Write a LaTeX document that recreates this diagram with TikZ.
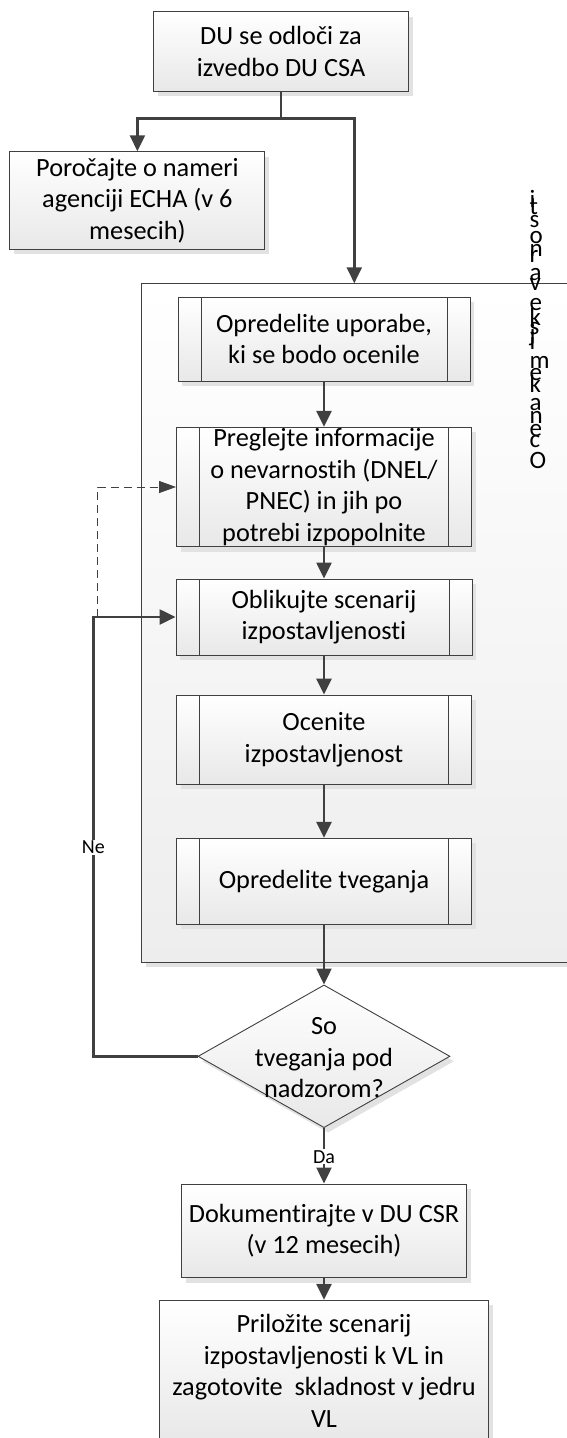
\documentclass[tikz,border=0pt]{standalone}
\usepackage{fontspec}
\setmainfont{Carlito}[Ligatures=NoCommon]
\usetikzlibrary{arrows.meta,shapes.geometric,shadows}
\definecolor{ln}{HTML}{404040}
\definecolor{shd}{HTML}{E2E2E2}
\begin{document}
\begin{tikzpicture}[x=1pt,y=-1pt,
  font=\fontsize{26.3}{31.5}\selectfont,
  base/.style={draw=ln, line width=0.9pt, top color=white, bottom color=black!9,
    drop shadow={shadow xshift=4pt, shadow yshift=-5pt, fill=shd, opacity=1},
    inner sep=0pt, align=center},
  plainbox/.style={base, rectangle},
  procbox/.style={base, rectangle,
    path picture={
      \draw[ln, line width=0.9pt] ([xshift=23pt]path picture bounding box.north west) -- ([xshift=23pt]path picture bounding box.south west);
      \draw[ln, line width=0.9pt] ([xshift=-23pt]path picture bounding box.north east) -- ([xshift=-23pt]path picture bounding box.south east);}},
  decision/.style={base, diamond},
  conn/.style={draw=ln, line width=2.4pt},
  arr/.style={conn, -{Triangle[length=16pt,width=15pt]}},
  dsh/.style={draw=ln, line width=1pt, dash pattern=on 8pt off 5pt, -{Triangle[length=17pt,width=12pt]}},
  lbl/.style={fill=white, inner sep=1pt, font=\fontsize{20}{22}\selectfont},
  vlet/.style={anchor=base west, inner sep=0pt, font=\fontsize{25}{25}\selectfont},
]
\useasboundingbox (0,0) rectangle (567,1438);
\clip (0,0) rectangle (567,1438);

% top boxes
\node[plainbox, minimum width=255pt, minimum height=79.3pt] (top) at (281,51.3) {DU se odloči za\\izvedbo DU CSA};
\node[plainbox, minimum width=255pt, minimum height=97.6pt] (rep) at (137.4,200.5) {Poročajte o nameri\\agenciji ECHA (v 6\\mesecih)};

% container
\node[base, rectangle, line width=1.1pt, bottom color=black!7, minimum width=478pt, minimum height=679pt] (csa) at (380.7,622.8) {};

% vertical label "Ocena kemijske varnosti" (letters stacked)
\foreach \l/\y [count=\k] in {i/207,t/214,s/227,o/243,n/256,r/262,a/280,v/290,e/310,k/325,s/334,j/341,i/349,m/368,e/380,k/392,a/410,n/423,e/436,c/447,O/468}
  \node[vlet] (v\k) at (529.5,\y) {\l};

% process boxes
\node[procbox, minimum width=292pt, minimum height=83.7pt] (p1) at (324,339.2) {Opredelite uporabe,\\ki se bodo ocenile};
\node[procbox, minimum width=295pt, minimum height=119.4pt] (p2) at (324,487) {Preglejte informacije\\o nevarnostih (DNEL/\\PNEC) in jih po\\potrebi izpopolnite};
\node[procbox, minimum width=296pt, minimum height=76pt] (p3) at (324,617) {Oblikujte scenarij\\izpostavljenosti};
\node[procbox, minimum width=295pt, minimum height=89.3pt] (p4) at (324,739.7) {Ocenite\\izpostavljenost};
\node[procbox, minimum width=295pt, minimum height=86pt] (p5) at (324,881.3) {Opredelite tveganja};

% decision
\node[decision, minimum width=252pt, minimum height=142.7pt] (dia) at (324,1056.3) {};
\node[inner sep=0pt, align=center] (diatext) at (324,1058) {So\\tveganja pod\\nadzorom?};

% bottom boxes
\node[plainbox, minimum width=285pt, minimum height=93.7pt] (b6) at (324,1230.8) {Dokumentirajte v DU CSR\\(v 12 mesecih)};
\node[plainbox, minimum width=329.4pt, minimum height=141pt] (b7) at (324,1370.8) {Priložite scenarij\\izpostavljenosti k VL in\\zagotovite\ \ skladnost v jedru\\VL};

% connectors
\coordinate (j) at (281,118.3);
\coordinate (cin) at (354.3,283.3);
\draw[conn] (top.south) -- (j);
\draw[arr] (j) -| (rep.north);
\draw[arr] (j) -| (cin);

\draw[arr] (p1.south) -- (p2.north);
\draw[arr] (p2.south) -- (p3.north);
\draw[arr] (p3.south) -- (p4.north);
\draw[arr] (p4.south) -- (p5.north);
\draw[arr] (p5.south) -- (dia.north);

\coordinate (lc) at (93.3,617);
\coordinate (dc) at (97.6,617);
\draw[dsh] (dc) |- (p2.west);
\draw[arr] (dia.west) -| (lc) -- (p3.west);
\node[lbl] (ne) at (93.3,847.3) {Ne};

\draw[arr] (dia.south) -- (b6.north);
\node[lbl] (da) at (324,1156.7) {Da};
\draw[arr] (b6.south) -- (b7.north);
\end{tikzpicture}
\end{document}
